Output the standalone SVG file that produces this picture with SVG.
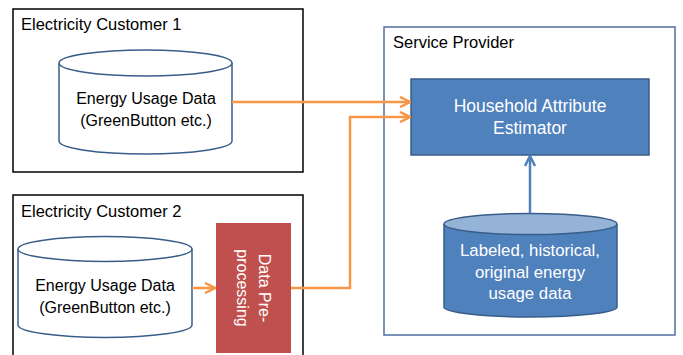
<svg xmlns="http://www.w3.org/2000/svg" width="683" height="355" viewBox="0 0 683 355">
  <defs>
    <style>
      text { font-family: "Liberation Sans", "Noto Sans", sans-serif; font-size: 16px; }
      .title { font-size: 16.5px; }
      .big { font-size: 17.5px; }
      .db { font-size: 16.8px; }
      .dark { fill: #000; }
      .white { fill: #fff; }
      .mid { text-anchor: middle; }
      .frame { fill: #fff; stroke: #000; stroke-width: 1.5; }
      .cyl { fill: #fff; stroke: #385D8A; stroke-width: 1.5; }
      .cylblue { fill: #4F81BD; stroke: #385D8A; stroke-width: 1.5; }
      .cyltop { fill: #95B3D7; stroke: #385D8A; stroke-width: 1.5; }
      .flow { fill: none; stroke: #F79646; stroke-width: 2.5; }
      .feed { fill: none; stroke: #4F81BD; stroke-width: 2.5; }
    </style>
    <marker id="headOrange" viewBox="0 0 12 12" refX="11" refY="6" markerWidth="12" markerHeight="12" markerUnits="userSpaceOnUse" orient="auto">
      <path d="M1,1 L11,6 L1,11" fill="none" stroke="#F79646" stroke-width="2.5"/>
    </marker>
    <marker id="headBlue" viewBox="0 0 12 12" refX="11" refY="6" markerWidth="12" markerHeight="12" markerUnits="userSpaceOnUse" orient="auto">
      <path d="M1,1 L11,6 L1,11" fill="none" stroke="#4F81BD" stroke-width="2.5"/>
    </marker>
  </defs>

  <rect width="683" height="355" fill="#fff"/>

  <!-- Customer 1 -->
  <g id="customer1">
    <rect class="frame" x="13" y="9" width="290" height="163"/>
    <text class="dark title" x="21" y="30">Electricity Customer 1</text>
    <g id="usage1">
      <path class="cyl" d="M59,63 L59,141 A86.5,13 0 0 0 232,141 L232,63"/>
      <ellipse class="cyl" cx="145.5" cy="63" rx="86.5" ry="13"/>
      <text class="dark mid" x="146" y="104">Energy Usage Data</text>
      <text class="dark mid" x="146" y="126">(GreenButton etc.)</text>
    </g>
  </g>

  <!-- Customer 2 -->
  <g id="customer2">
    <rect class="frame" x="13" y="195" width="290" height="170"/>
    <text class="dark title" x="21" y="217">Electricity Customer 2</text>
    <g id="usage2">
      <path class="cyl" d="M18,249 L18,325 A87,12.5 0 0 0 192,325 L192,249"/>
      <ellipse class="cyl" cx="105" cy="249" rx="87" ry="12.5"/>
      <text class="dark mid" x="105" y="291">Energy Usage Data</text>
      <text class="dark mid" x="105" y="313">(GreenButton etc.)</text>
    </g>
    <g id="preprocessing">
      <rect x="216" y="223" width="75" height="130" fill="#C0504D"/>
      <g transform="translate(253.5,288) rotate(90)">
        <text class="white mid" x="0" y="-5">Data Pre-</text>
        <text class="white mid" x="0" y="17">processing</text>
      </g>
    </g>
  </g>

  <!-- Service provider -->
  <g id="provider">
    <rect x="384" y="27" width="291" height="308" fill="#fff" stroke="#4F6FA0" stroke-width="1.5"/>
    <text class="dark title" x="393" y="48">Service Provider</text>
    <g id="estimator">
      <rect x="411" y="79" width="238" height="76" fill="#4F81BD" stroke="#385D8A" stroke-width="1.5"/>
      <text class="white mid big" x="530" y="112">Household Attribute</text>
      <text class="white mid big" x="530" y="134">Estimator</text>
    </g>
    <g id="historical">
      <path class="cylblue" d="M444,224 L444,307 A86.5,10 0 0 0 617,307 L617,224"/>
      <ellipse class="cyltop" cx="530.5" cy="224" rx="86.5" ry="10.5"/>
      <text class="white mid db" x="530" y="256">Labeled, historical,</text>
      <text class="white mid db" x="530" y="278">original energy</text>
      <text class="white mid db" x="530" y="299">usage data</text>
    </g>
  </g>

  <!-- Connectors -->
  <g id="connectors">
    <path class="flow" d="M232,102 L410,102" marker-end="url(#headOrange)"/>
    <path class="flow" d="M291,288 L350,288 L350,117 L410,117" marker-end="url(#headOrange)"/>
    <path class="flow" d="M192,288 L215,288" marker-end="url(#headOrange)"/>
    <path class="feed" d="M530,213 L530,156" marker-end="url(#headBlue)"/>
  </g>
</svg>
